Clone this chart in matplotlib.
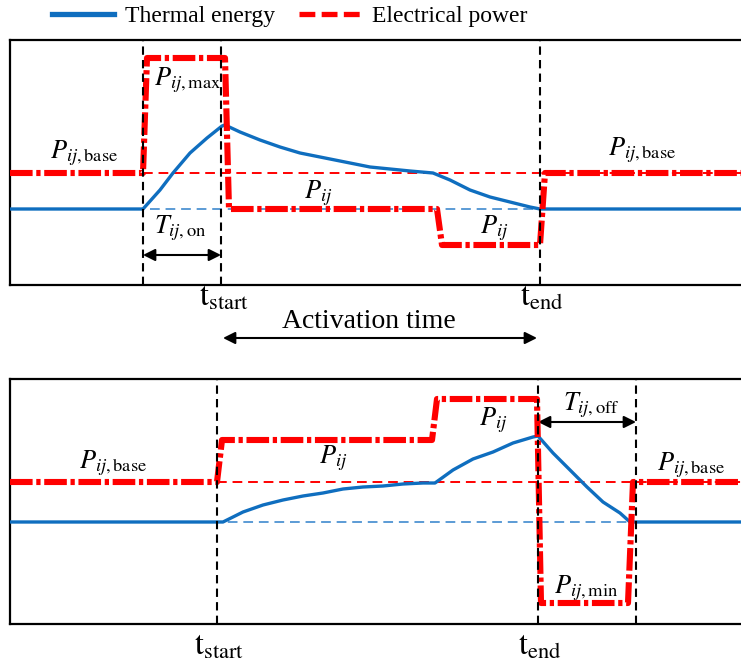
import matplotlib
matplotlib.use("Agg")
import matplotlib.pyplot as plt
from matplotlib.lines import Line2D

plt.rcParams['font.family'] = ['Liberation Serif', 'DejaVu Serif']
plt.rcParams['mathtext.fontset'] = 'stix'

# time axis: 0..731 (arbitrary units), value axis: 0..245 (arbitrary units)
# --- activation case (upper panel) ---
top_marks = [133, 211, 530]          # T_on start, t_start, t_end
top_power_t = [0, 133, 137, 215, 219, 427, 432, 530, 535, 731]
top_power_v = [112, 112, 227, 227, 76, 76, 40, 40, 112, 112]
top_heat_t = [0, 133, 150, 163, 180, 197, 212, 215, 230, 250, 270, 290,
              310, 330, 340, 360, 380, 400, 423, 440, 460, 480, 500, 520,
              530, 731]
top_heat_v = [76, 76, 95, 112, 132, 147, 159, 160, 153, 145, 138, 132,
              128, 124, 122, 118, 116, 114, 112, 105, 95, 88, 83, 78,
              76, 76]
top_base_power = 112
top_base_heat = 76

# --- deactivation case (lower panel) ---
bot_marks = [207, 528, 626]          # t_start, t_end, T_off end
bot_power_t = [0, 207, 212, 422, 427, 527, 531, 618, 623, 731]
bot_power_v = [142, 142, 184, 184, 225, 225, 21, 21, 142, 142]
bot_heat_t = [0, 213, 233, 253, 273, 293, 313, 333, 353, 373, 393, 413,
              425, 443, 463, 483, 503, 523, 528, 543, 560, 577, 593, 610,
              620, 731]
bot_heat_v = [102, 102, 112, 119, 124, 128, 131, 135, 137, 138, 140, 141,
              141, 154, 165, 172, 181, 187, 188, 171, 154, 137, 122, 111,
              102, 102]
bot_base_power = 142
bot_base_heat = 102

RED = '#ff0000'
BLUE = '#0f6ebf'
LBLUE = '#5b9bd5'

fig = plt.figure(figsize=(7.41, 6.62), dpi=100)
W, H = 741.0, 662.0
ax1 = fig.add_axes([10 / W, 1 - 285 / H, 731 / W, 245 / H])
ax2 = fig.add_axes([10 / W, 1 - 624 / H, 731 / W, 245 / H])


def draw_panel(ax, pt, pv, ht, hv, base_p, base_h, marks, pstart):
    ax.set_xlim(0, 731)
    ax.set_ylim(0, 245)
    ax.set_xticks([])
    ax.set_yticks([])
    ax.spines['right'].set_visible(False)
    for s in ['top', 'bottom', 'left']:
        ax.spines[s].set_linewidth(1.6)
    ax.plot([0, 731], [base_h, base_h], color=LBLUE, lw=1.4,
            ls=(0, (5, 3)), zorder=2)
    ax.plot([pstart, 731], [base_p, base_p], color=RED, lw=1.4,
            ls=(0, (5, 3)), zorder=2)
    ax.plot(ht, hv, color=BLUE, lw=2.4, zorder=3, solid_joinstyle='round')
    ax.plot(pt, pv, color=RED, lw=4.4, ls=(0, (3.7, 0.6, 0.7, 0.6)),
            zorder=4, dash_joinstyle='round')
    for m in marks:
        ax.axvline(m, color='black', lw=1.5, ls=(0, (4, 2.5)), zorder=5)


draw_panel(ax1, top_power_t, top_power_v, top_heat_t, top_heat_v,
           top_base_power, top_base_heat, top_marks, top_marks[0])
draw_panel(ax2, bot_power_t, bot_power_v, bot_heat_t, bot_heat_v,
           bot_base_power, bot_base_heat, bot_marks, bot_marks[0])

lab = dict(fontsize=19, ha='center', va='center')
ax1.text(178, 205, r'$P_{ij,\mathrm{max}}$', **lab)
ax1.text(74, 132, r'$P_{ij,\mathrm{base}}$', **lab)
ax1.text(308, 92, r'$P_{ij}$', **lab)
ax1.text(484, 57, r'$P_{ij}$', **lab)
ax1.text(632, 135, r'$P_{ij,\mathrm{base}}$', **lab)
ax1.text(170, 57, r'$T_{ij,\mathrm{on}}$', **lab)
ax1.annotate('', xy=(top_marks[0], 30), xytext=(top_marks[1], 30),
             arrowprops=dict(arrowstyle='<|-|>', color='black', lw=1.5,
                             mutation_scale=18, shrinkA=0, shrinkB=0))

tl = dict(fontsize=23, ha='center', va='center', clip_on=False)
ax1.text(214, -13, r'$\mathrm{t}_{\mathrm{start}}$', **tl)
ax1.text(532, -13, r'$\mathrm{t}_{\mathrm{end}}$', **tl)
ax1.text(359, -36, 'Activation time', fontsize=20, ha='center',
         va='center', clip_on=False)
ax1.annotate('', xy=(213, -53), xytext=(527, -53), annotation_clip=False,
             arrowprops=dict(arrowstyle='<|-|>', color='black', lw=1.5,
                             mutation_scale=18, shrinkA=0, shrinkB=0))

ax2.text(103, 161, r'$P_{ij,\mathrm{base}}$', **lab)
ax2.text(323, 166, r'$P_{ij}$', **lab)
ax2.text(483, 204, r'$P_{ij}$', **lab)
ax2.text(581, 219, r'$T_{ij,\mathrm{off}}$', **lab)
ax2.text(681, 159, r'$P_{ij,\mathrm{base}}$', **lab)
ax2.text(576, 36, r'$P_{ij,\mathrm{min}}$', **lab)
ax2.annotate('', xy=(bot_marks[1], 202), xytext=(bot_marks[2], 202),
             arrowprops=dict(arrowstyle='<|-|>', color='black', lw=1.5,
                             mutation_scale=18, shrinkA=0, shrinkB=0))
ax2.text(209, -23, r'$\mathrm{t}_{\mathrm{start}}$', **tl)
ax2.text(530, -23, r'$\mathrm{t}_{\mathrm{end}}$', **tl)

handles = [Line2D([], [], color=BLUE, lw=3.8),
           Line2D([], [], color=RED, lw=3.8, ls=(0, (3, 1.2)))]
fig.legend(handles, ['Thermal energy', 'Electrical power'], loc='center',
           bbox_to_anchor=(290 / W, 1 - 16 / H), ncol=2, frameon=False,
           fontsize=17, handlelength=2.6, handletextpad=0.5,
           columnspacing=1.0, borderpad=0)

fig.savefig('out.png', dpi=100)
